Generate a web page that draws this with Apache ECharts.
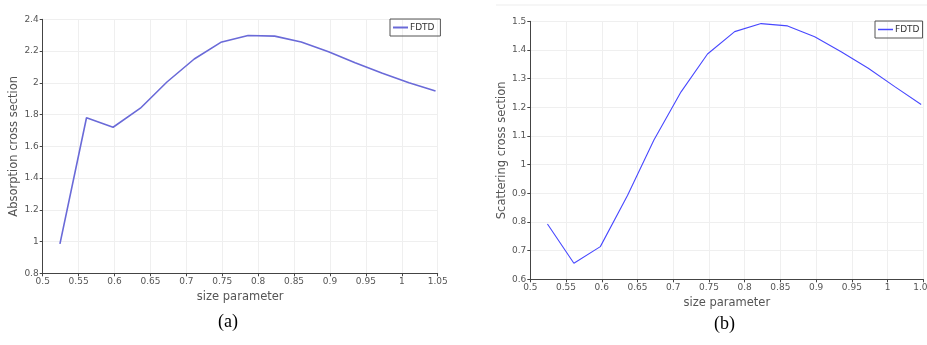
<!DOCTYPE html>
<html><head><meta charset="utf-8">
<script src="https://cdn.jsdelivr.net/npm/echarts@6/dist/echarts.min.js"></script>
<style>html,body{margin:0;padding:0;background:#fff}#c{width:927px;height:345px}</style>
</head><body><div id="c"></div>
<script>
const sizeParam = [0.524,0.561,0.598,0.636,0.673,0.711,0.748,0.786,0.823,0.860,0.898,0.935,0.973,1.010,1.047];
const absorption = [0.985,1.78,1.72,1.84,2.005,2.15,2.255,2.298,2.294,2.257,2.196,2.127,2.06,2.0,1.948];
const scattering = [0.793,0.656,0.714,0.892,1.086,1.254,1.386,1.464,1.492,1.484,1.446,1.394,1.336,1.272,1.21];
const seriesName = 'FDTD';
const xName = 'size parameter';
const yNameA = 'Absorption cross section';
const yNameB = 'Scattering cross section';
const captions = ['(a)','(b)'];

const font = 'DejaVu Sans';
const txt = '#555';
function xAxis(i){return {type:'value',gridIndex:i,min:0.5,max:1.05,interval:0.05,name:xName,nameLocation:'middle',nameGap:i?16:15,
  nameTextStyle:{color:txt,fontFamily:font,fontSize:11.5},
  axisLine:{lineStyle:{color:'#444',width:1}},axisTick:{show:true,length:3,lineStyle:{color:'#444'}},
  axisLabel:{color:txt,fontFamily:font,fontSize:9,margin:4,formatter:v=>String(+v.toFixed(2))},
  splitLine:{show:true,lineStyle:{color:'#efefef'}}};}
function yAxis(i,min,max,iv,name){return {type:'value',gridIndex:i,min:min,max:max,interval:iv,name:name,nameLocation:'middle',nameGap:21,
  nameTextStyle:{color:txt,fontFamily:font,fontSize:11.5},
  axisLine:{show:true,lineStyle:{color:'#444',width:1}},axisTick:{show:true,length:3,lineStyle:{color:'#444'}},
  axisLabel:{color:txt,fontFamily:font,fontSize:9,margin:4,formatter:v=>String(+v.toFixed(1))},
  splitLine:{show:true,lineStyle:{color:'#efefef'}}};}

const chart = echarts.init(document.getElementById('c'),null,{renderer:'canvas'});
chart.setOption({
  animation:false,
  backgroundColor:'#fff',
  grid:[{left:42.7,top:19.3,width:395,height:254,outerBoundsMode:'none',containLabel:false},
        {left:530.3,top:21.3,width:393,height:258,outerBoundsMode:'none',containLabel:false}],
  xAxis:[xAxis(0),xAxis(1)],
  yAxis:[yAxis(0,0.8,2.4,0.2,yNameA),yAxis(1,0.6,1.5,0.1,yNameB)],
  legend:[
    {data:[{name:seriesName+' ',icon:'rect'}],left:390,top:19,itemWidth:15,itemHeight:2,itemGap:0,
      borderColor:'#555',borderWidth:1,padding:[4,3,4,3],textStyle:{color:'#333',fontFamily:font,fontSize:9,padding:[0,0,0,-3]}},
    {data:[{name:seriesName,icon:'rect'}],left:875,top:21,itemWidth:15,itemHeight:1.5,itemGap:0,
      borderColor:'#555',borderWidth:1,padding:[4,3,4,3],textStyle:{color:'#333',fontFamily:font,fontSize:9,padding:[0,0,0,-3]}}
  ],
  series:[
    {name:seriesName+' ',type:'line',xAxisIndex:0,yAxisIndex:0,data:sizeParam.map((x,i)=>[x,absorption[i]]),
      symbol:'none',lineStyle:{color:'#6a6ad8',width:1.6},itemStyle:{color:'#6a6ad8'}},
    {name:seriesName,type:'line',xAxisIndex:1,yAxisIndex:1,data:sizeParam.map((x,i)=>[x,scattering[i]]),
      symbol:'none',lineStyle:{color:'#4848ff',width:1.1},itemStyle:{color:'#4848ff'}}
  ],
  graphic:[
    {type:'line',shape:{x1:496,y1:5,x2:927,y2:5},style:{stroke:'#ededed',lineWidth:1}},
    {type:'text',left:218,top:313,style:{text:captions[0],font:'18px "Liberation Serif"',fill:'#000'}},
    {type:'text',left:714,top:315,style:{text:captions[1],font:'18px "Liberation Serif"',fill:'#000'}}
  ]
});
</script></body></html>
